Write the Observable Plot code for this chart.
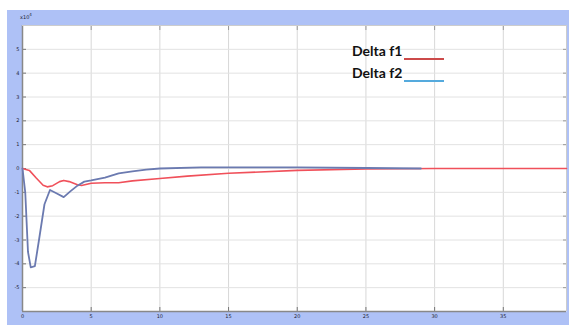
<!DOCTYPE html>
<html><head><meta charset="utf-8">
<script src="https://cdn.jsdelivr.net/npm/d3@7"></script>
<script src="https://cdn.jsdelivr.net/npm/@observablehq/plot@0.6"></script>
<style>
html,body{margin:0;padding:0;background:#fff;}
#wrap{position:relative;width:569px;height:325px;overflow:hidden;}
#bg{position:absolute;left:7px;top:10px;width:562px;height:315px;background:#aec1f6;}
#chart{position:absolute;left:0;top:0;}
.leg{position:absolute;font-family:Lato,"Open Sans",sans-serif;font-weight:bold;font-size:14px;color:#111;}
.legline{position:absolute;height:1.5px;}
#exp{position:absolute;left:20px;top:12px;font-family:"DejaVu Sans",sans-serif;font-size:5px;color:#223;}
</style></head>
<body><div id="wrap"><div id="bg"></div><div id="chart"></div>
<div class="leg" style="left:352px;top:42px">Delta f1</div>
<div class="legline" style="left:404px;top:58px;width:40px;background:#cc4a4a"></div>
<div class="leg" style="left:352px;top:64px">Delta f2</div>
<div class="legline" style="left:404px;top:80px;width:40px;background:#55aadd"></div>
<div id="exp">x10<sup style="font-size:4px">4</sup></div>
</div>
<script>
// time axis (s) and deviation values (x10^-4)
const f1Time = [0, 0.5, 1.0, 1.5, 1.8, 2.2, 2.7, 3.0, 3.4, 4.0, 4.3, 5.0, 6.0, 7.0, 8.0, 10, 12, 15, 20, 25, 30, 39.6];
const f1Vals = [0, -0.08, -0.4, -0.7, -0.77, -0.72, -0.55, -0.5, -0.55, -0.68, -0.71, -0.62, -0.6, -0.6, -0.52, -0.42, -0.32, -0.2, -0.08, -0.02, 0, 0];
const f2Time = [0, 0.2, 0.4, 0.6, 0.9, 1.2, 1.6, 2.0, 2.5, 3.0, 3.5, 4.0, 4.5, 5.0, 6.0, 7.0, 8.0, 9.0, 10, 13, 20, 25, 29];
const f2Vals = [0, -1.0, -3.5, -4.15, -4.1, -3.0, -1.5, -0.9, -1.05, -1.2, -0.95, -0.72, -0.55, -0.5, -0.38, -0.2, -0.12, -0.05, 0, 0.05, 0.05, 0.02, 0];
const xTicks = [0, 5, 10, 15, 20, 25, 30, 35];
const yTicks = [-5, -4, -3, -2, -1, 0, 1, 2, 3, 4, 5];

const f1 = f1Time.map((t, i) => ({t, v: f1Vals[i]}));
const f2 = f2Time.map((t, i) => ({t, v: f2Vals[i]}));

const chart = Plot.plot({
  width: 569, height: 325,
  marginLeft: 22, marginRight: 3, marginTop: 25, marginBottom: 14,
  style: {background: "transparent", fontFamily: "DejaVu Sans, sans-serif"},
  x: {domain: [0, 39.6], label: null},
  y: {domain: [-6, 6], label: null},
  marks: [
    Plot.frame({fill: "white", stroke: "none"}),
    Plot.gridX(xTicks.slice(1), {stroke: "#d8d8d8", strokeOpacity: 1}),
    Plot.gridY(yTicks, {stroke: "#e2e2e2", strokeOpacity: 1}),
    Plot.axisX(xTicks, {anchor: "bottom", label: null, tickSize: -4, tickPadding: 7, fontSize: 5, fill: "#223", stroke: "#777"}),
    Plot.axisX(xTicks, {anchor: "top", label: null, tickSize: -4, text: null, stroke: "#999"}),
    Plot.axisY(yTicks, {anchor: "left", label: null, tickSize: -4, tickPadding: 7, fontSize: 5, fill: "#223", stroke: "#777", tickFormat: d => String(d)}),
    Plot.axisY(yTicks, {anchor: "right", label: null, tickSize: -4, text: null, stroke: "#999"}),
    Plot.ruleY([-6], {stroke: "#888", strokeWidth: 1.5}),
    Plot.ruleX([0], {stroke: "#888", strokeWidth: 1.5}),
    Plot.ruleY([6], {stroke: "#ccc"}),
    Plot.ruleX([39.6], {stroke: "#ccc"}),
    Plot.line(f1, {x: "t", y: "v", stroke: "#f0505a", strokeWidth: 1.6}),
    Plot.line(f2, {x: "t", y: "v", stroke: "#6b7ab0", strokeWidth: 1.8})
  ]
});
document.getElementById("chart").appendChild(chart);
</script></body></html>
